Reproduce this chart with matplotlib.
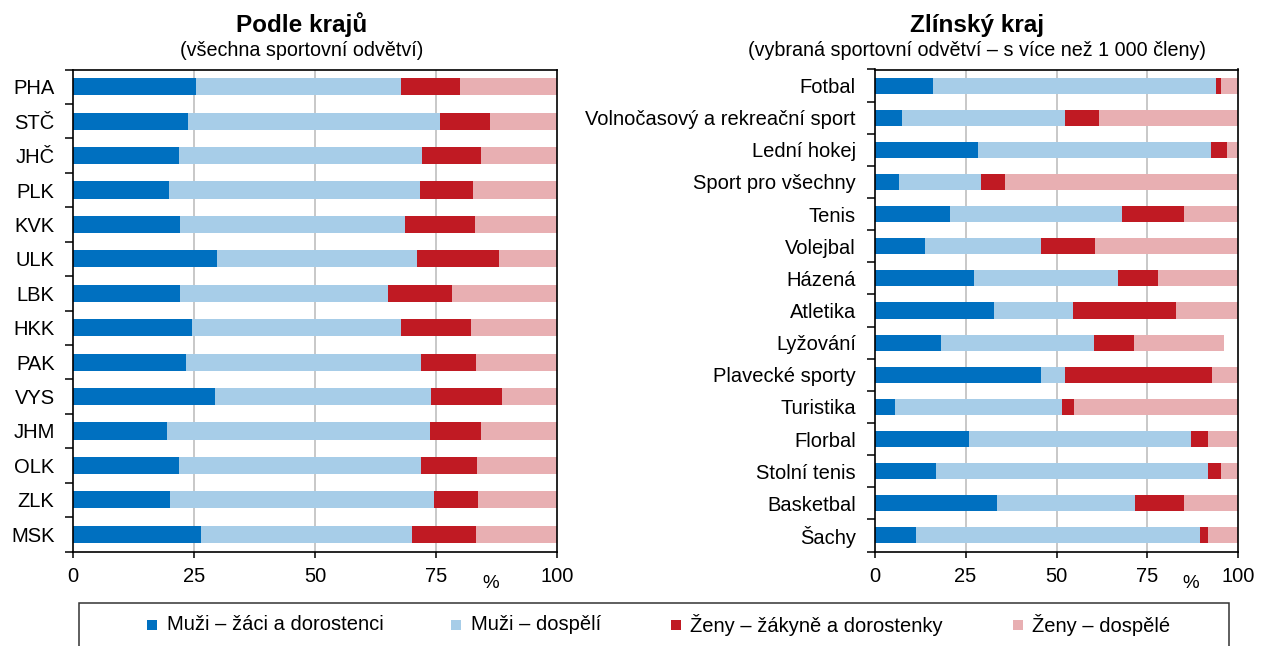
import matplotlib
matplotlib.use("Agg")
import matplotlib.pyplot as plt
from matplotlib.patches import Rectangle
import numpy as np

plt.rcParams['font.family'] = ['Liberation Sans', 'DejaVu Sans']

# ---------------- data ----------------
series_labels = ["Muži – žáci a dorostenci", "Muži – dospělí",
                 "Ženy – žákyně a dorostenky", "Ženy – dospělé"]
colors = ["#0070C0", "#A7CDE8", "#C01A23", "#E8AFB2"]

regions = ["PHA", "STČ", "JHČ", "PLK", "KVK", "ULK", "LBK",
           "HKK", "PAK", "VYS", "JHM", "OLK", "ZLK", "MSK"]
reg_boys  = [25.3, 23.8, 21.9, 19.9, 22.1, 29.7, 22.1, 24.6, 23.4, 29.3, 19.4, 21.9, 20.1, 26.4]
reg_men   = [42.4, 52.0, 50.2, 51.9, 46.5, 41.5, 43.0, 43.1, 48.5, 44.6, 54.4, 50.0, 54.6, 43.6]
reg_girls = [12.3, 10.3, 12.2, 10.9, 14.6, 16.9, 13.2, 14.6, 11.4, 14.7, 10.5, 11.6, 9.1, 13.4]
reg_women = [20.0, 13.9, 15.7, 17.3, 16.8, 11.9, 21.7, 17.7, 16.7, 11.4, 15.7, 16.5, 16.2, 16.6]

sports = ["Fotbal", "Volnočasový a rekreační sport", "Lední hokej", "Sport pro všechny",
          "Tenis", "Volejbal", "Házená", "Atletika", "Lyžování", "Plavecké sporty",
          "Turistika", "Florbal", "Stolní tenis", "Basketbal", "Šachy"]
sp_boys  = [15.9, 7.4, 28.5, 6.7, 20.8, 13.8, 27.3, 32.8, 18.1, 45.6, 5.6, 26.0, 16.9, 33.6, 11.3]
sp_men   = [78.0, 44.9, 64.0, 22.4, 47.2, 31.8, 39.6, 21.8, 42.3, 6.7, 46.0, 61.0, 74.8, 38.1, 78.3]
sp_girls = [1.3, 9.4, 4.5, 6.7, 17.2, 15.0, 11.0, 28.2, 10.9, 40.5, 3.2, 4.7, 3.5, 13.4, 2.0]
sp_women = [4.8, 38.3, 3.0, 64.2, 14.8, 39.4, 22.1, 17.2, 24.9, 7.2, 45.2, 8.3, 4.8, 14.9, 8.4]

W, H = 1262, 646
fig = plt.figure(figsize=(W / 100, H / 100), dpi=100)

def fx(px):
    return px / W

def fy(py):
    return 1 - py / H

top_px, bot_px = 69.5, 551.5
ax1 = fig.add_axes([fx(73.3), fy(bot_px), fx(556.7 - 73.3), (bot_px - top_px) / H])
ax2 = fig.add_axes([fx(874.7), fy(bot_px), fx(1238.3 - 874.7), (bot_px - top_px) / H])

def draw(ax, cats, vals):
    n = len(cats)
    y = np.arange(n)
    left = np.zeros(n)
    for v, c, lab in zip(vals, colors, series_labels):
        v = np.array(v)
        ax.barh(y, v, left=left, height=0.5, color=c, label=lab, zorder=2, linewidth=0)
        left = left + v
    ax.set_xlim(0, 100)
    ax.set_ylim(n - 0.5, -0.5)
    ax.set_yticks(y)
    ax.set_yticklabels(cats)
    ax.set_yticks(np.arange(n + 1) - 0.5, minor=True)
    ax.set_xticks([0, 25, 50, 75, 100])
    ax.tick_params(axis='y', which='major', length=0, pad=13.5, labelsize=14.5)
    ax.tick_params(axis='y', which='minor', length=5.5, width=1.1, direction='out')
    ax.tick_params(axis='x', which='major', length=4, width=1.1, direction='out', pad=7.5, labelsize=14.5)
    for x in [25, 50, 75]:
        ax.axvline(x, color='#C4C4C4', lw=1.3, zorder=1)
    for s in ax.spines.values():
        s.set_linewidth(1.2)
        s.set_color('black')
        s.set_zorder(3)

draw(ax1, regions, [reg_boys, reg_men, reg_girls, reg_women])
draw(ax2, sports, [sp_boys, sp_men, sp_girls, sp_women])

# titles
fig.text(fx(302), fy(32), "Podle krajů", ha='center', va='baseline', fontsize=17.5, fontweight='bold')
fig.text(fx(302), fy(56), "(všechna sportovní odvětví)", ha='center', va='baseline', fontsize=14.2)
fig.text(fx(977), fy(32), "Zlínský kraj", ha='center', va='baseline', fontsize=17.5, fontweight='bold')
fig.text(fx(977), fy(56), "(vybraná sportovní odvětví – s více než 1 000 členy)", ha='center',
         va='baseline', fontsize=14.2)

# percent labels
fig.text(fx(491), fy(583), "%", ha='center', va='center', fontsize=13.5)
fig.text(fx(1191), fy(583), "%", ha='center', va='center', fontsize=13.5)

# legend frame
fig.patches.append(Rectangle((fx(78.7), fy(680)), fx(1229 - 78.7), (680 - 602.7) / H,
                             transform=fig.transFigure, fill=False, edgecolor='#333333', lw=1.1))
sq_x = [147.3, 451.0, 670.5, 1012.5]
for sx, c, lab in zip(sq_x, colors, series_labels):
    fig.patches.append(Rectangle((fx(sx), fy(629.7)), fx(10), 10 / H,
                                 transform=fig.transFigure, color=c, lw=0))
    fig.text(fx(sx + 20), fy(624.7), lab, ha='left', va='center', fontsize=14.5)

fig.savefig("out.png", dpi=100)
